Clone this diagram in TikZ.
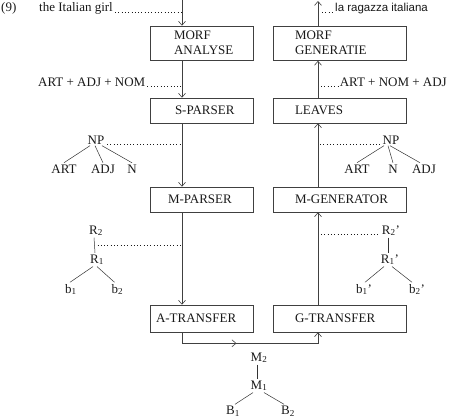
\documentclass[tikz,border=0pt]{standalone}
\usepackage{fontspec}
\setmainfont{Liberation Serif}
\newfontfamily\sansf{Liberation Sans}
\usetikzlibrary{arrows.meta,decorations.markings,calc}
\begin{document}
\begin{tikzpicture}[x=1pt,y=-1pt,
  txt/.style={font=\fontsize{13}{15}\selectfont, inner sep=0pt, text=black!90},
  tn/.style={txt, inner sep=1.5pt, anchor=base},
  box/.style={draw=black!75, line width=0.6pt, txt, text width=#1, minimum height=25pt, align=left},
  ln/.style={draw=black!75, line width=0.6pt},
  arr/.style={-{Straight Barb[length=4pt,width=7pt]}},
  leader/.style={draw=black!90, line width=0.9pt, dash pattern=on 0.9pt off 2.4pt},
  tl/.style={draw=black!80, line width=0.5pt}
]
\useasboundingbox (0,0) rectangle (450,420);
\coordinate (L) at (182,0);
\coordinate (R) at (318,1);

% boxes
\node[box=103pt, minimum height=34.5pt] (ma) at (201.5,43.25) {\hspace*{24pt}MORF\\\hspace*{24pt}ANALYSE};
\node[box=133pt, minimum height=34.5pt] (mg) at (339.5,43.25) {\hspace*{22pt}MORF\\\hspace*{22pt}GENERATIE};
\node[box=103pt] (sp) at (201.5,110.5) {\hspace*{25pt}S-PARSER};
\node[box=133pt] (lv) at (339.5,110.5) {\hspace*{22pt}LEAVES};
\node[box=103pt] (mp) at (201.5,199.5) {\hspace*{18pt}M-PARSER};
\node[box=133pt] (mgen) at (339.5,199.5) {\hspace*{22pt}M-GENERATOR};
\node[box=103pt, minimum height=27pt] (at) at (201.5,318.5) {\hspace*{6pt}A-TRANSFER};
\node[box=133pt, minimum height=27pt] (gt) at (339.5,318.5) {\hspace*{22pt}G-TRANSFER};

% texts
\node[txt, anchor=base west] (n9) at (1,12) {(9)};
\node[txt, anchor=base west] (src) at (39,12) {the Italian girl};
\node[txt, anchor=base west, font=\sansf\fontsize{11.5}{13}\selectfont] (tgt) at (335,12) {la ragazza italiana};
\node[txt, anchor=base west] (lab1) at (38,86) {ART + ADJ + NOM};
\node[txt, anchor=base east] (lab2) at (447,86) {ART + NOM + ADJ};

\draw[leader] ([xshift=2pt]src.base east) -- (src.base east -| L);
\draw[leader] ([xshift=2pt]lab1.base east) -- (lab1.base east -| L);
\draw[leader] ($(R |- tgt.base west)+(4,0)$) -- ([xshift=-1pt]tgt.base west);
\draw[leader] ($(R |- lab2.base west)+(3,0)$) -- ([xshift=-1pt]lab2.base west);

% main flow
\draw[ln, arr] (L) -- (L |- ma.north);
\draw[ln, arr] (ma.south -| L) -- (sp.north -| L);
\draw[ln, arr] (sp.south -| L) -- (mp.north -| L);
\draw[ln, arr] (mp.south -| L) -- (at.north -| L);
\draw[ln, arr] (at.south -| L) -- ++(0,11) coordinate (bl) -- (bl -| R) coordinate (br) -- (gt.south -| R);
\path[decorate, decoration={markings, mark=at position 0.4 with {\arrow[draw=black!75, line width=0.6pt]{Straight Barb[length=4pt,width=7pt]}}}] (bl) -- (br);
\draw[ln, arr] (gt.north -| R) -- (mgen.south -| R);
\draw[ln, arr] (mgen.north -| R) -- (lv.south -| R);
\draw[ln, arr] (lv.north -| R) -- (mg.south -| R);
\draw[ln, arr] (mg.north -| R) -- (R);

% left NP tree
\node[tn] (np) at (96,144) {NP};
\node[tn] (art) at (64,173) {ART};
\node[tn] (adj) at (103,173) {ADJ};
\node[tn] (n) at (132,173) {N};
\draw[tl] ([xshift=4pt]np.south west) -- (art.north);
\draw[tl] ([xshift=-1pt]np.south) -- (adj.north);
\draw[tl] ([xshift=-4pt]np.south east) -- (n.north);
\draw[leader] ([xshift=1pt]np.base east) -- (np.base east -| L);

% right NP tree
\node[tn] (np2) at (391,144) {NP};
\node[tn] (art2) at (357,173) {ART};
\node[tn] (n2) at (393,173) {N};
\node[tn] (adj2) at (424,173) {ADJ};
\draw[tl] ([xshift=3pt]np2.south west) -- (art2.north);
\draw[tl] ([xshift=-3pt]np2.south) -- (n2.north);
\draw[tl] ([xshift=-1pt]np2.south) -- ([xshift=-4pt]adj2.north);
\draw[leader] ($(R |- np2.base west)+(2,0)$) -- ([xshift=-1pt]np2.base west);

% left R tree
\node[tn] (r2) at (96,234) {R\textsubscript{2}};
\node[tn] (r1) at (97,263) {R\textsubscript{1}};
\node[tn] (b1) at (71,293) {b\textsubscript{1}};
\node[tn] (b2) at (117.5,293) {b\textsubscript{2}};
\draw[tl] ([xshift=-2pt]r2.south) -- ([xshift=-2pt]r1.north) coordinate[pos=0.5] (rm);
\draw[tl] ([xshift=-4pt]r1.south) -- ([xshift=-1pt]b1.north);
\draw[tl] ([xshift=0pt]r1.south) -- ([xshift=-3pt]b2.north);
\draw[leader] ($(rm)+(3,0)$) -- (rm -| L);

% right R tree
\node[tn] (r2p) at (391,234) {R\textsubscript{2}'};
\node[tn] (r1p) at (390,263) {R\textsubscript{1}'};
\node[tn] (b1p) at (364,293) {b\textsubscript{1}'};
\node[tn] (b2p) at (417,293) {b\textsubscript{2}'};
\draw[tl] ([xshift=-3pt]r2p.south) -- ([xshift=-2pt]r1p.north);
\draw[tl] ([xshift=-6pt]r1p.south) -- ([xshift=1pt]b1p.north);
\draw[tl] ([xshift=2pt]r1p.south) -- ([xshift=-5pt]b2p.north);
\draw[leader] ($(R |- r2p.base west)+(3,0)$) -- ([xshift=-1pt]r2p.base west);

% bottom M tree
\node[tn] (m2) at (259,361) {M\textsubscript{2}};
\node[tn] (m1) at (259,389) {M\textsubscript{1}};
\node[tn] (bb1) at (233,414.5) {B\textsubscript{1}};
\node[tn] (bb2) at (288,414.5) {B\textsubscript{2}};
\draw[tl] ([xshift=-1.5pt]m2.south) -- ([xshift=-1.5pt]m1.north);
\draw[tl] ([xshift=-6pt]m1.south) -- ([xshift=2pt]bb1.north);
\draw[tl] ([xshift=5pt]m1.south) -- ([xshift=-4pt]bb2.north);
\end{tikzpicture}
\end{document}
